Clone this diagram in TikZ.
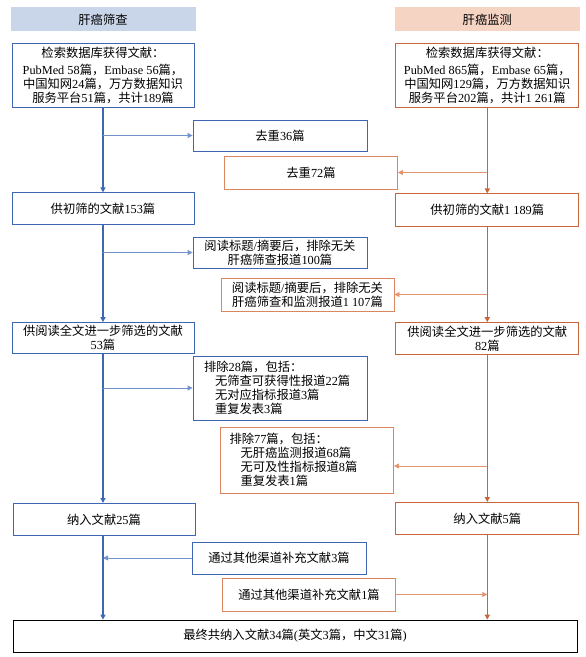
\documentclass[tikz,border=0pt]{standalone}
\usepackage{fontspec}
\setmainfont{Liberation Serif}
\newfontfamily\cjkfont{Noto Sans CJK SC}
\usetikzlibrary{positioning, arrows.meta}

% switch to the CJK font for every run of Chinese characters
\XeTeXinterchartokenstate=1
\newXeTeXintercharclass\zhclass
\count255="4E00
\loop\XeTeXcharclass\count255=\zhclass\ifnum\count255<"9FFF\advance\count255 by 1\repeat
\XeTeXcharclass"FF0C=\zhclass
\XeTeXcharclass"FF1A=\zhclass
\XeTeXinterchartoks 0 \zhclass={\begingroup\cjkfont}
\XeTeXinterchartoks 4095 \zhclass={\begingroup\cjkfont}
\XeTeXinterchartoks \zhclass 0={\endgroup}
\XeTeXinterchartoks \zhclass 4095={\endgroup}

\definecolor{scrblue}{HTML}{3F66B0}
\definecolor{scrblueline}{HTML}{7393CE}
\definecolor{scrbluefill}{HTML}{C9D6EA}
\definecolor{monorange}{HTML}{C8643A}
\definecolor{monorangebox}{HTML}{DB8660}
\definecolor{monorangeline}{HTML}{E3956F}
\definecolor{monorangefill}{HTML}{F6D4C4}

\begin{document}
\begin{tikzpicture}[
        x=1pt, y=1pt,
        font=\fontsize{12.3}{14}\selectfont,
        head/.style={rectangle, minimum width=185pt, minimum height=24pt, inner sep=0pt},
        lbox/.style={rectangle, draw=scrblue, thick, fill=white, minimum width=182pt, align=center, inner sep=2pt},
        rbox/.style={rectangle, draw=monorange, thick, fill=white, minimum width=183pt, align=center, inner sep=2pt},
        lside/.style={rectangle, draw=scrblue, thick, fill=white, minimum width=174pt, align=center, inner sep=2pt},
        rside/.style={rectangle, draw=monorangebox, thick, fill=white, minimum width=173pt, align=center, inner sep=2pt},
        lmain/.style={-{Triangle[length=5pt, width=5pt]}, line width=1.5pt, scrblue},
        rmain/.style={-{Triangle[length=5pt, width=5pt]}, line width=1.5pt, monorange},
        lbranch/.style={-{Triangle[length=5pt, width=5pt]}, line width=0.8pt, scrblueline},
        rbranch/.style={-{Triangle[length=5pt, width=5pt]}, line width=0.8pt, monorangeline}
    ]
        \useasboundingbox (0,0) rectangle (586,-657);

        % Screening column
        \node[lbox, minimum height=64pt] (lsearch) at (103,-75) {检索数据库获得文献：\\[3pt]PubMed 58篇，Embase 56篇，\\中国知网24篇，万方数据知识\\服务平台51篇，共计189篇};
        \node[head, fill=scrbluefill, above=11pt of lsearch] (lhead) {肝癌筛查};
        \node[lbox, minimum height=32pt, below=85pt of lsearch] (lfirst) {供初筛的文献153篇};
        \node[lbox, minimum height=31pt, below=97pt of lfirst] (lfull) {供阅读全文进一步筛选的文献\\53篇};
        \node[lbox, minimum height=32pt, below=149pt of lfull, xshift=1pt] (lincl) {纳入文献25篇};

        % Surveillance column
        \node[rbox, minimum height=64pt, right=201pt of lsearch] (rsearch) {检索数据库获得文献：\\[3pt]PubMed 865篇，Embase 65篇，\\中国知网129篇，万方数据知识\\服务平台202篇，共计1~261篇};
        \node[head, fill=monorangefill, above=11pt of rsearch] (rhead) {肝癌监测};
        \node[rbox, minimum height=33pt, below=86pt of rsearch] (rfirst) {供初筛的文献1~189篇};
        \node[rbox, minimum height=32pt, below=95pt of rfirst] (rfull) {供阅读全文进一步筛选的文献\\82篇};
        \node[rbox, minimum height=32pt, below=147pt of rfull] (rincl) {纳入文献5篇};

        % Side boxes
        \node[lside, minimum height=31pt] (ldup) at (280,-135.5) {去重36篇};
        \node[rside, minimum height=33pt] (rdup) at (311,-172.5) {去重72篇};
        \node[lside, minimum height=31pt] (lread) at (280,-252.5) {阅读标题/摘要后，排除无关\\肝癌筛查报道100篇};
        \node[rside, minimum height=33pt] (rread) at (307.5,-294.5) {阅读标题/摘要后，排除无关\\肝癌筛查和监测报道1~107篇};
        \node[lside, minimum height=64pt, align=left, text width=152pt, inner xsep=11pt] (lexcl) at (280,-388) {排除28篇，包括：\\\hspace*{11pt}无筛查可获得性报道22篇\\\hspace*{11pt}无对应指标报道3篇\\\hspace*{11pt}重复发表3篇};
        \node[rside, minimum height=66pt, align=left, text width=155pt, inner xsep=9pt] (rexcl) at (307,-460) {排除77篇，包括：\\\hspace*{11pt}无肝癌监测报道68篇\\\hspace*{11pt}无可及性指标报道8篇\\\hspace*{11pt}重复发表1篇};
        \node[lside, minimum height=32pt] (lother) at (279,-558) {通过其他渠道补充文献3篇};
        \node[rside, minimum height=33pt] (rother) at (309,-594.5) {通过其他渠道补充文献1篇};

        % Final result
        \node[rectangle, draw=black, thick, fill=white, minimum width=564pt, minimum height=32pt] (final) at (295,-636) {最终共纳入文献34篇(英文3篇，中文31篇)};

        % Main flow
        \draw[lmain] (lsearch) -- (lfirst);
        \draw[lmain] (lfirst) -- (lfull);
        \draw[lmain] (lfull) -- (lfull.south |- lincl.north);
        \draw[lmain] (lfull.south |- lincl.south) -- (lfull.south |- final.north);
        \draw[rmain] (rsearch) -- (rfirst);
        \draw[rmain] (rfirst) -- (rfull);
        \draw[rmain] (rfull) -- (rincl);
        \draw[rmain] (rincl) -- (rincl |- final.north);

        % Branches
        \draw[lbranch] (lsearch.south |- ldup.west) -- (ldup.west);
        \draw[lbranch] (lfirst.south |- lread.west) -- (lread.west);
        \draw[lbranch] (lfull.south |- lexcl.west) -- (lexcl.west);
        \draw[lbranch] (lother.west) -- (lfull.south |- lother.west);
        \draw[rbranch] (rsearch.south |- rdup.east) -- (rdup.east);
        \draw[rbranch] (rfirst.south |- rread.east) -- (rread.east);
        \draw[rbranch] ([yshift=-6pt]rfull.south |- rexcl.east) -- ([yshift=-6pt]rexcl.east);
        \draw[rbranch] (rother.east) -- (rincl.south |- rother.east);
    \end{tikzpicture}
\end{document}
